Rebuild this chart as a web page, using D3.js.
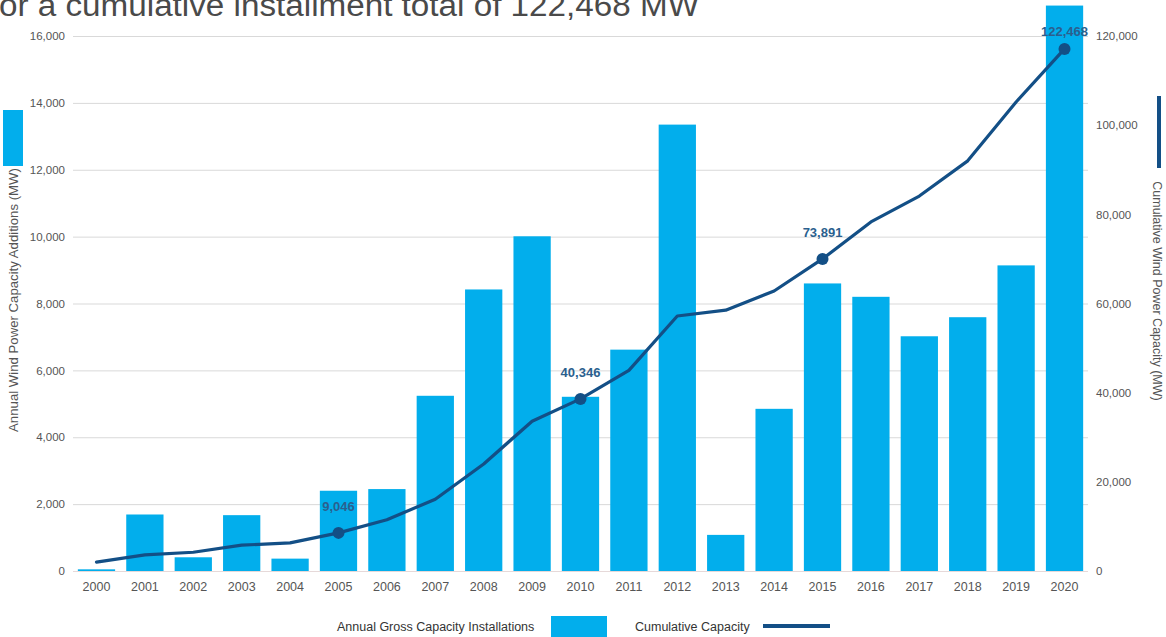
<!DOCTYPE html>
<html><head><meta charset="utf-8">
<script src="https://cdn.jsdelivr.net/npm/d3@7"></script>
<style>
html,body{margin:0;padding:0;background:#fff;overflow:hidden}
text{font-family:"Liberation Sans",Arial,sans-serif}
</style></head>
<body>
<svg id="c" width="1166" height="637"></svg>
<script>
const years = ["2000","2001","2002","2003","2004","2005","2006","2007","2008","2009","2010","2011","2012","2013","2014","2015","2016","2017","2018","2019","2020"];
const annual = [50,1690,410,1670,370,2400,2450,5240,8420,10010,5210,6620,13350,1080,4850,8600,8200,7020,7590,9140,16910];
const cumulative = [2000,3600,4200,5800,6300,8550,11500,16100,24000,33600,38600,45000,57200,58500,62800,70000,78300,84100,92000,105200,117100];
const labelYears = ["2005","2010","2015","2020"];
const labelTexts = ["9,046","40,346","73,891","122,468"];
const leftTicks = [0,2000,4000,6000,8000,10000,12000,14000,16000];
const rightTicks = [0,20000,40000,60000,80000,100000,120000];

const svg = d3.select("#c");
const L = 73, R = 1088, T = 36, B = 571;
const x = d3.scaleBand().domain(years).range([L, R]).paddingInner(0.23).paddingOuter(0.1);
const y = d3.scaleLinear().domain([0,16000]).range([B, T]);
const y2 = d3.scaleLinear().domain([0,120000]).range([B, T]);
const fmt = d3.format(",");
const F = "Liberation Sans, Arial, sans-serif";

// title fragment (cut off at top, as in the reference)
svg.append("text").attr("x",-1).attr("y",16).attr("font-size",31).attr("fill","#4a4a4a")
  .attr("textLength",700).attr("lengthAdjust","spacingAndGlyphs")
  .text("or a cumulative installment total of 122,468 MW");

// gridlines
svg.append("g").selectAll("line").data(leftTicks).join("line")
  .attr("x1",L).attr("x2",R).attr("y1",d=>y(d)+0.5).attr("y2",d=>y(d)+0.5)
  .attr("stroke",d=>d===0?"#e6d9d9":"#d9d9d9").attr("stroke-width",1);

// left axis
const la = svg.append("g").attr("transform",`translate(${L-8},0)`)
  .call(d3.axisLeft(y).tickValues(leftTicks).tickFormat(fmt).tickSize(0).tickPadding(0));
la.select(".domain").remove();
la.selectAll("text").attr("font-size",11.5).attr("fill","#555").attr("font-family",F);

// right axis
const ra = svg.append("g").attr("transform",`translate(${R+8},0)`)
  .call(d3.axisRight(y2).tickValues(rightTicks).tickFormat(fmt).tickSize(0).tickPadding(0));
ra.select(".domain").remove();
ra.selectAll("text").attr("font-size",11.5).attr("fill","#555").attr("font-family",F);

// bottom axis
const ba = svg.append("g").attr("transform",`translate(0,${B+6})`)
  .call(d3.axisBottom(x).tickSize(0).tickPadding(5));
ba.select(".domain").remove();
ba.selectAll("text").attr("font-size",12.5).attr("fill","#555").attr("font-family",F);

// bars
svg.append("g").selectAll("rect").data(years).join("rect")
  .attr("x",d=>x(d)).attr("width",x.bandwidth())
  .attr("y",(d,i)=>y(annual[i])).attr("height",(d,i)=>Math.max(1.5,B-y(annual[i])))
  .attr("fill","#02aeec");

// cumulative line
const line = d3.line().x((d,i)=>x(years[i])+x.bandwidth()/2).y(d=>y2(d));
svg.append("path").datum(cumulative).attr("d",line).attr("fill","none")
  .attr("stroke","#134f86").attr("stroke-width",3.2).attr("stroke-linejoin","round").attr("stroke-linecap","round");

// markers + labels
labelYears.forEach((yr,k)=>{
  const i = years.indexOf(yr);
  const cx = x(yr)+x.bandwidth()/2, cy = y2(cumulative[i]);
  svg.append("circle").attr("cx",cx).attr("cy",cy).attr("r",6).attr("fill","#134f86");
  svg.append("text").attr("x",cx).attr("y",Math.max(cy-26,31)).attr("dy","0.35em")
    .attr("text-anchor","middle").attr("font-size",13).attr("font-weight","bold")
    .attr("fill","#2b5f8e").text(labelTexts[k]);
});

// left legend swatch and axis title
svg.append("rect").attr("x",3).attr("y",110).attr("width",20).attr("height",56).attr("fill","#02aeec");
svg.append("text").attr("transform","translate(18,300) rotate(-90)").attr("text-anchor","middle")
  .attr("font-size",13.2).attr("fill","#555").text("Annual Wind Power Capacity Additions (MW)");

// right legend line and axis title
svg.append("rect").attr("x",1157).attr("y",96).attr("width",4).attr("height",72).attr("fill","#134f86");
svg.append("text").attr("transform","translate(1153,291) rotate(90)").attr("text-anchor","middle")
  .attr("font-size",12.5).attr("fill","#555").text("Cumulative Wind Power Capacity  (MW)");

// bottom legend
svg.append("text").attr("x",337).attr("y",631).attr("font-size",12.5).attr("fill","#333").text("Annual Gross Capacity Installations");
svg.append("rect").attr("x",551).attr("y",616).attr("width",56).attr("height",21).attr("fill","#02aeec");
svg.append("text").attr("x",635).attr("y",631).attr("font-size",12.5).attr("fill","#333").text("Cumulative Capacity");
svg.append("rect").attr("x",763).attr("y",624).attr("width",67).attr("height",4).attr("fill","#134f86");
</script>
</body></html>
